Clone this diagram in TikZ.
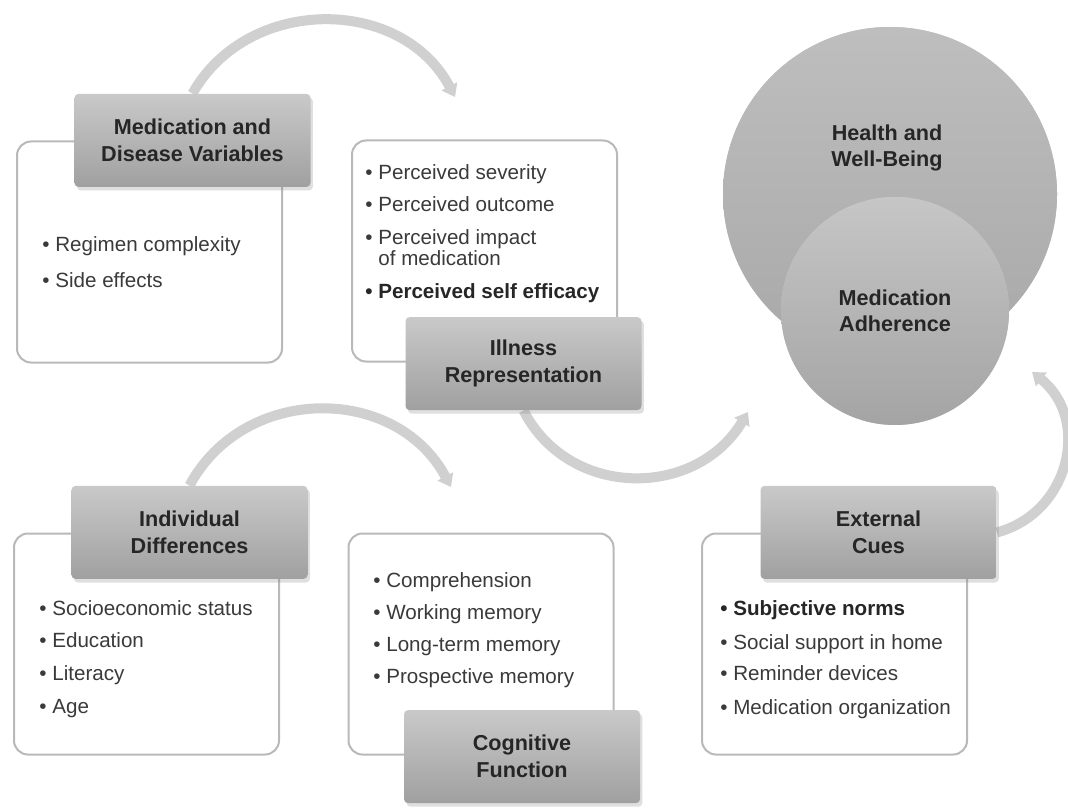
\documentclass[tikz,border=0pt]{standalone}
\usepackage{fontspec}
\setmainfont{Liberation Sans}
\usetikzlibrary{arrows.meta,positioning,shadows,backgrounds}
\definecolor{arcgrey}{HTML}{D0D0D0}
\definecolor{hdrtop}{HTML}{C9C9C9}
\definecolor{hdrbottom}{HTML}{A0A0A0}
\definecolor{panelline}{HTML}{B9B9B9}
\definecolor{inkgrey}{HTML}{3A3A3A}
\definecolor{darkink}{HTML}{262626}
\definecolor{bigtop}{HTML}{BEBEBE}
\definecolor{bigbottom}{HTML}{A8A8A8}
\definecolor{smalltop}{HTML}{C6C6C6}
\definecolor{smallbottom}{HTML}{A4A4A4}

\begin{document}
\begin{tikzpicture}[x=0.5pt,y=-0.5pt,
  panel/.style={draw=panelline,line width=1pt,rounded corners=7pt,fill=white,minimum width=132.5pt,minimum height=110.5pt},
  hdr/.style={rounded corners=2pt,top color=hdrtop,bottom color=hdrbottom,minimum width=118pt,minimum height=46.5pt,align=center,font=\bfseries\fontsize{10.8}{13.5}\selectfont,text=darkink,drop shadow={shadow xshift=1.2pt,shadow yshift=-1.8pt,opacity=0.25}},
  item/.style={anchor=base west,inner sep=0pt,font=\fontsize{10.3}{10.5}\selectfont,text=inkgrey},
  keyitem/.style={item,font=\bfseries\fontsize{10.3}{10.5}\selectfont,text=darkink},
  orb/.style={circle,align=center,font=\bfseries\fontsize{10.8}{13}\selectfont,text=darkink},
  flow/.style={draw=arcgrey,line width=5pt,-{Triangle[length=6pt,width=8.5pt]}}]
\useasboundingbox (0,0) rectangle (1068,807);

\node[orb,fill=bigtop,minimum size=167pt] (health) at (890,194) {};
\shade[top color=bigtop,bottom color=bigbottom] (health.center) circle[radius=83.5pt];
\node[orb] (healthtxt) at (887,148) {Health and\\Well-Being};
\node[orb,fill=smalltop,minimum size=114pt] (adherence) at (895,311) {};
\shade[top color=smalltop,bottom color=smallbottom] (adherence.center) circle[radius=57pt];
\node[orb] (adhtxt) at (adherence.center) {Medication\\Adherence};

\node[panel] (medbox) at (149.5,252) {};
\node[hdr,anchor=north] (medhdr) at ([xshift=21.5pt,yshift=23.5pt]medbox.north) {Medication and\\Disease Variables};
\node[item] (med1) at (42,252) {• Regimen complexity};
\node[item] (med2) at (42,287) {• Side effects};

\node[panel] (illbox) at (484.5,251) {};
\node[hdr,anchor=south] (illhdr) at ([xshift=19.5pt,yshift=-24pt]illbox.south) {Illness\\Representation};
\node[item] (ill1) at (365,180) {• Perceived severity};
\node[item] (ill2) at (365,212) {• Perceived outcome};
\node[item] (ill3) at (365,245) {• Perceived impact};
\node[item] (ill3b) at (378,265) {of medication};
\node[keyitem] (ill4) at (365,299) {• Perceived self efficacy};

\node[panel] (indbox) at (146.5,644) {};
\node[hdr,anchor=north] (indhdr) at ([xshift=21.5pt,yshift=23.5pt]indbox.north) {Individual\\Differences};
\foreach \t [count=\i] in {Socioeconomic status,Education,Literacy,Age}
  \node[item] (ind\i) at ({39},{615+32.7*(\i-1)}) {• \t};

\node[panel] (cogbox) at (481,644) {};
\node[hdr,anchor=south] (coghdr) at ([xshift=20.5pt,yshift=-24pt]cogbox.south) {Cognitive\\Function};
\foreach \t [count=\i] in {Comprehension,Working memory,Long-term memory,Prospective memory}
  \node[item] (cog\i) at ({373},{587+32.3*(\i-1)}) {• \t};

\node[panel] (extbox) at (834.5,644) {};
\node[hdr,anchor=north] (exthdr) at ([xshift=22pt,yshift=23.5pt]extbox.north) {External\\Cues};
\node[keyitem] (ext1) at (720,615) {• Subjective norms};
\node[item] (ext2) at (720,649) {• Social support in home};
\node[item] (ext3) at (720,680) {• Reminder devices};
\node[item] (ext4) at (720,714) {• Medication organization};

\coordinate (medtip) at (455,97);
\coordinate (indtip) at (451,487);
\coordinate (illtip) at (748,412);
\coordinate (exttip) at (1032,372);

\begin{scope}[on background layer]
\fill[white] (0,0) rectangle (1068,807);
\draw[flow] (medhdr.north) .. controls (248,-5) and (402,-4) .. (medtip);
\draw[flow] (indhdr.north) .. controls (244,384) and (396,384) .. (indtip);
\draw[flow] (illhdr.south) .. controls (569,499) and (696,499) .. (illtip);
\draw[flow] (exthdr.east) .. controls (1070,513) and (1091,419) .. (exttip);
\end{scope}
\end{tikzpicture}
\end{document}
